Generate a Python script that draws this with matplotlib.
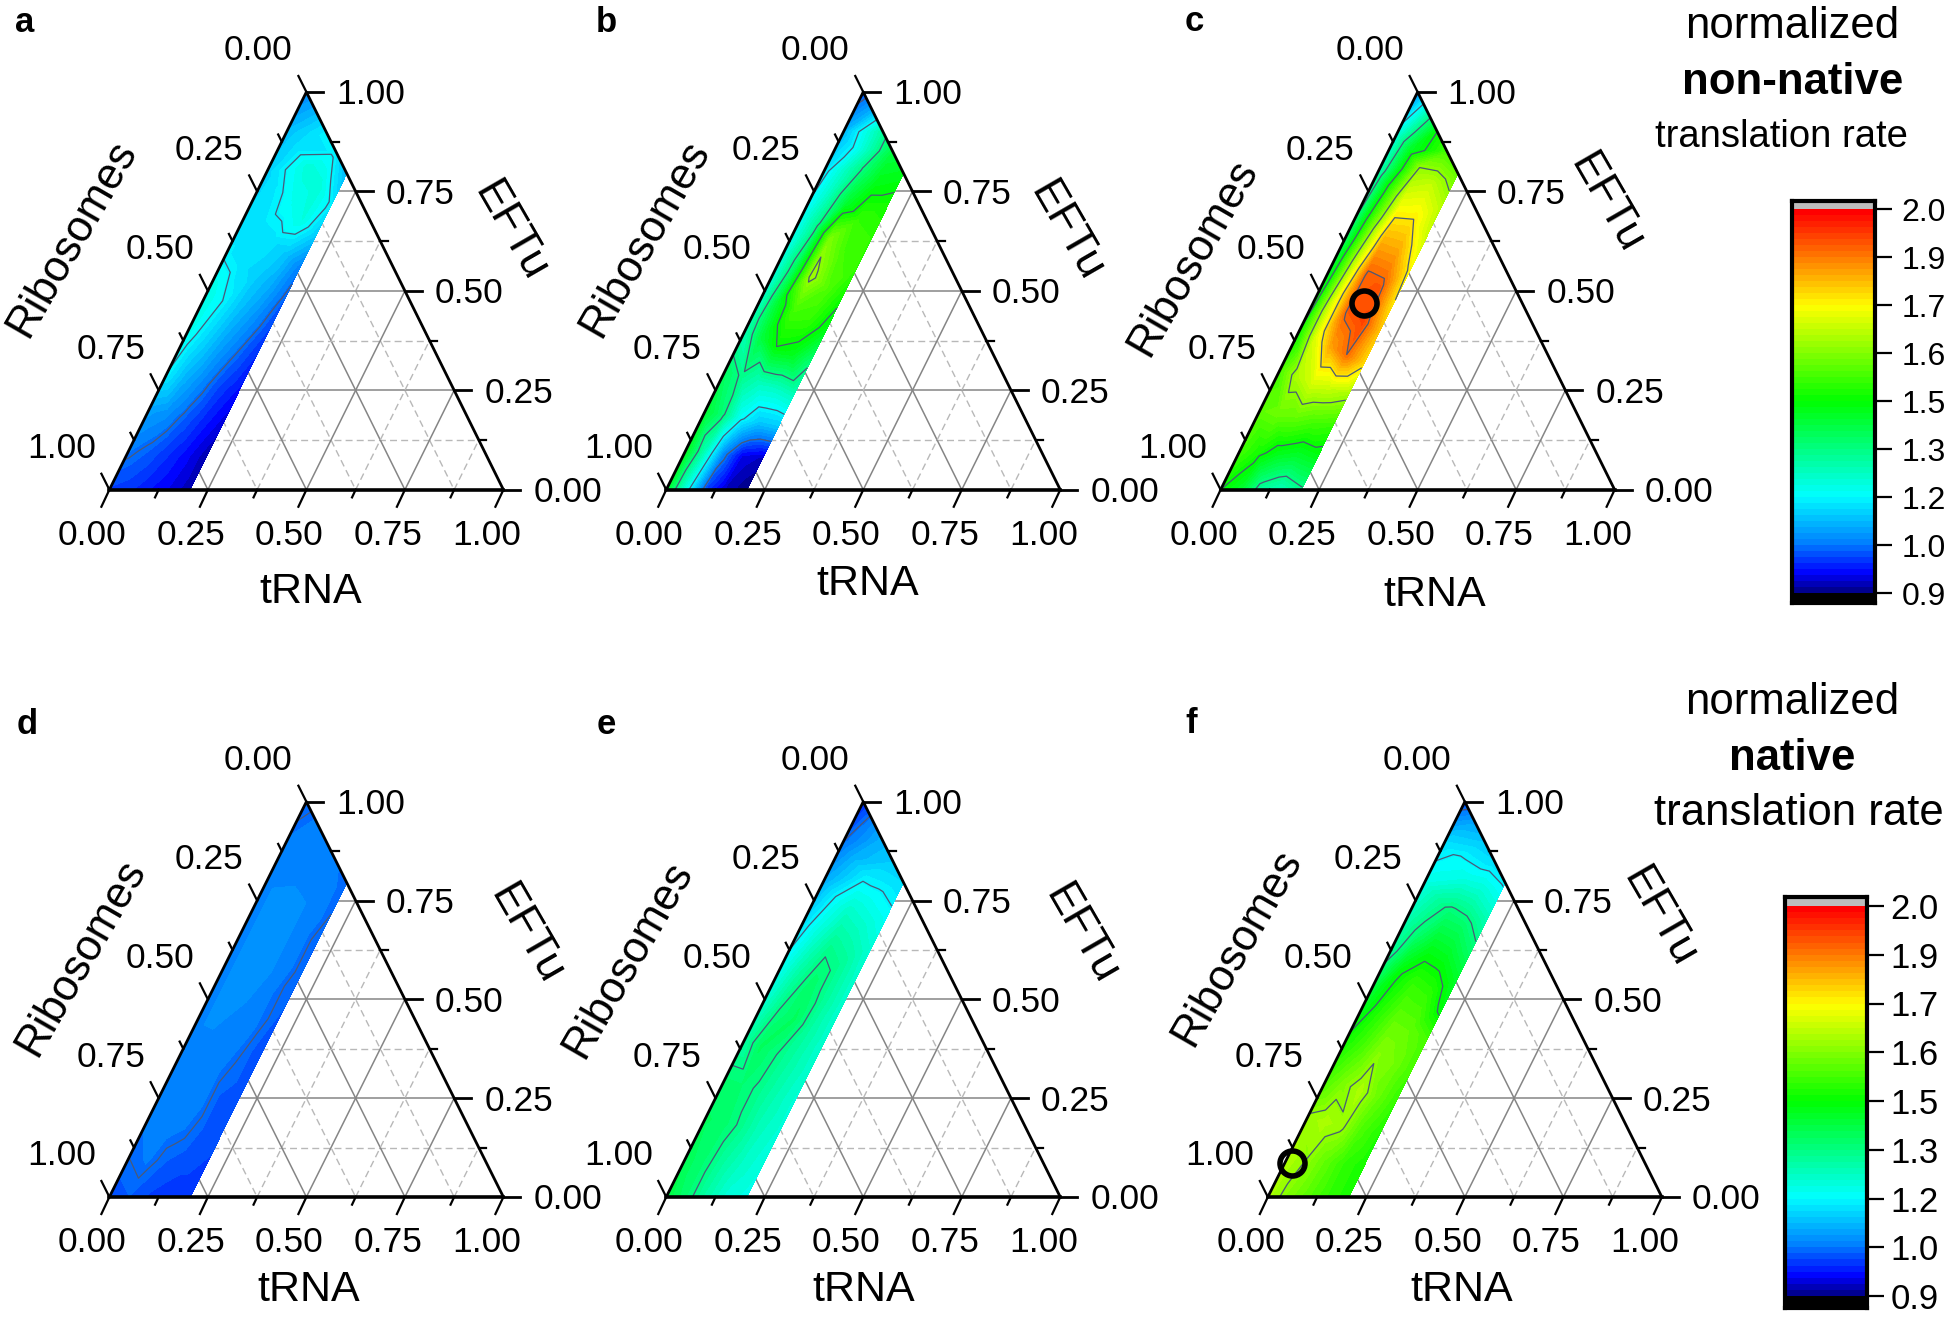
import numpy as np
import matplotlib
matplotlib.use("Agg")
import matplotlib.pyplot as plt
import matplotlib.tri as mtri
from matplotlib.colors import LinearSegmentedColormap, Normalize

plt.rcParams['font.family'] = ['Liberation Sans', 'DejaVu Sans']

# grid of the measured area: tRNA share, and EFTu share of what is left
trna = [0, 0.05, 0.10, 0.15, 0.205]
eftu_frac = [0, 0.1, 0.2, 0.3, 0.4, 0.5, 0.6, 0.7, 0.8, 0.9, 1.0]

rate_a = [[1.00, 0.99, 0.97, 0.95, 0.92], [1.04, 1.02, 0.99, 0.96, 0.92], [1.08, 1.06, 1.02, 0.98, 0.94],
          [1.17, 1.10, 1.05, 1.00, 0.96], [1.20, 1.14, 1.08, 1.03, 0.98], [1.21, 1.17, 1.11, 1.06, 1.00],
          [1.16, 1.15, 1.13, 1.09, 1.02], [1.14, 1.15, 1.15, 1.12, 1.04], [1.13, 1.16, 1.19, 1.21, 1.12],
          [1.11, 1.15, 1.22, 1.22, 1.16], [1.05, 1.10, 1.16, 1.16, 1.10]]
rate_b = [[1.40, 1.20, 1.00, 0.93, 0.90], [1.42, 1.25, 1.05, 0.95, 0.93], [1.40, 1.32, 1.18, 1.12, 1.12],
          [1.35, 1.30, 1.25, 1.24, 1.25], [1.25, 1.38, 1.45, 1.42, 1.32], [1.22, 1.40, 1.52, 1.50, 1.42],
          [1.20, 1.35, 1.62, 1.54, 1.46], [1.18, 1.30, 1.58, 1.52, 1.50], [1.15, 1.25, 1.40, 1.50, 1.50],
          [1.10, 1.18, 1.32, 1.43, 1.47], [1.00, 1.10, 1.28, 1.38, 1.42]]
rate_c = [[1.45, 1.40, 1.28, 1.25, 1.30], [1.52, 1.47, 1.42, 1.40, 1.42], [1.55, 1.56, 1.55, 1.52, 1.50],
          [1.52, 1.63, 1.68, 1.66, 1.62], [1.45, 1.68, 1.82, 1.88, 1.76], [1.40, 1.68, 1.90, 1.92, 1.78],
          [1.35, 1.62, 1.89, 1.90, 1.74], [1.30, 1.55, 1.80, 1.82, 1.72], [1.25, 1.48, 1.70, 1.74, 1.66],
          [1.20, 1.40, 1.60, 1.66, 1.64], [1.05, 1.25, 1.45, 1.52, 1.55]]
rate_d = [[1.01, 1.02, 1.00, 0.99, 0.99], [1.03, 1.04, 1.02, 1.01, 1.00], [1.04, 1.05, 1.04, 1.02, 1.01],
          [1.05, 1.05, 1.05, 1.02, 1.01], [1.05, 1.05, 1.05, 1.03, 1.01], [1.05, 1.06, 1.05, 1.04, 1.01],
          [1.05, 1.06, 1.06, 1.04, 1.02], [1.05, 1.06, 1.06, 1.05, 1.02], [1.05, 1.06, 1.06, 1.05, 1.02],
          [1.04, 1.05, 1.05, 1.05, 1.03], [1.02, 1.04, 1.04, 1.04, 1.03]]
rate_e = [[1.38, 1.33, 1.27, 1.22, 1.20], [1.36, 1.33, 1.28, 1.24, 1.21], [1.35, 1.34, 1.30, 1.25, 1.22],
          [1.33, 1.33, 1.30, 1.26, 1.22], [1.27, 1.35, 1.31, 1.27, 1.23], [1.22, 1.31, 1.35, 1.28, 1.23],
          [1.18, 1.27, 1.34, 1.29, 1.23], [1.14, 1.22, 1.30, 1.29, 1.23], [1.09, 1.17, 1.24, 1.24, 1.22],
          [1.03, 1.10, 1.16, 1.18, 1.18], [0.98, 1.05, 1.10, 1.12, 1.14]]
rate_f = [[1.63, 1.58, 1.54, 1.50, 1.47], [1.64, 1.60, 1.55, 1.50, 1.47], [1.61, 1.63, 1.61, 1.53, 1.48],
          [1.52, 1.58, 1.63, 1.56, 1.50], [1.46, 1.52, 1.59, 1.57, 1.52], [1.40, 1.48, 1.55, 1.55, 1.52],
          [1.30, 1.44, 1.50, 1.50, 1.43], [1.26, 1.33, 1.42, 1.43, 1.40], [1.20, 1.27, 1.33, 1.35, 1.32],
          [1.14, 1.18, 1.20, 1.24, 1.24], [1.00, 1.08, 1.12, 1.14, 1.16]]

panel_names = ['a', 'b', 'c', 'd', 'e', 'f']
panel_rates = [rate_a, rate_b, rate_c, rate_d, rate_e, rate_f]
tick_labels = ['0.00', '0.25', '0.50', '0.75', '1.00']
tick_values = [0, 0.25, 0.5, 0.75, 1.0]
bar_values = [2.0, 1.8625, 1.725, 1.5875, 1.45, 1.3125, 1.175, 1.0375, 0.9]
bar_labels = ['2.0', '1.9', '1.7', '1.6', '1.5', '1.3', '1.2', '1.0', '0.9']
contour_levels = [1.03, 1.17, 1.31, 1.45, 1.6, 1.74, 1.88]
# best points: panel, tRNA, EFTu
best_points = {'c': (0.13, 0.47), 'f': (0.018, 0.085)}

W, H = 1949, 1324
S = 1949 / 1568.0   # layout below was measured on the 1568 wide view

# left corner x, base y, top y, name spot, Ribosomes spot, EFTu spot, tRNA spot
layout = {
    'a': (88, 394, 74, (20, 18), (58, 192), (410, 186), (250, 476)),
    'b': (536, 394, 74, (488, 18), (519, 192), (858, 186), (698, 470)),
    'c': (982, 394, 74, (961, 17), (960, 207), (1292, 164), (1154, 479)),
    'd': (88, 963, 645, (22, 583), (65, 770), (423, 752), (248, 1038)),
    'e': (536, 963, 645, (488, 583), (505, 772), (870, 752), (695, 1038)),
    'f': (1020, 963, 645, (958, 582), (995, 762), (1335, 738), (1176, 1038)),
}

rainbow = LinearSegmentedColormap.from_list('rainbow_rate', [
    (0.0, '#000090'), (0.045, '#0000ff'), (0.125, '#0080ff'), (0.25, '#00ffff'),
    (0.375, '#00ff80'), (0.5, '#00ff00'), (0.625, '#80ff00'), (0.75, '#ffff00'),
    (0.875, '#ff8000'), (1.0, '#ff0000')], N=64)
norm = Normalize(0.9, 2.0)


def cart(t, e):
    return t + e / 2.0, e


fig = plt.figure(figsize=(W / 100, H / 100), dpi=100)


def put_text(x, y, s, **kw):
    fig.text(x * S / W, 1 - y * S / H, s, ha=kw.pop('ha', 'center'), va=kw.pop('va', 'center'), **kw)


for name, rate in zip(panel_names, panel_rates):
    x0, base, top, name_xy, rib_xy, eftu_xy, trna_xy = layout[name]
    wpx = 317 * S
    hpx = (base - top) * S
    ax = fig.add_axes([x0 * S / W, 1 - base * S / H, wpx / W, hpx / H])
    ax.set_xlim(0, 1)
    ax.set_ylim(0, 1)
    ax.axis('off')

    # grid first, the data area sits on top
    for v in [0.125, 0.25, 0.375, 0.5, 0.625, 0.75, 0.875]:
        major = v in tick_values
        st = dict(color='#858585' if major else '#b8b8b8', lw=1.1 if major else 1.0,
                  ls='-' if major else (0, (5, 3)), zorder=1)
        ax.plot(*zip(cart(0, v), cart(1 - v, v)), **st)
        ax.plot(*zip(cart(v, 0), cart(v, 1 - v)), **st)
        ax.plot(*zip(cart(0, 1 - v), cart(1 - v, 0)), **st)

    tt, ff = np.meshgrid(trna, eftu_frac)
    ee = ff * (1 - tt)
    xx, yy = cart(tt, ee)
    tri = mtri.Triangulation(xx.ravel(), yy.ravel())
    z = np.array(rate).ravel()
    ax.tricontourf(tri, z, levels=np.linspace(0.9, 2.0, 65), cmap=rainbow, norm=norm, extend='both', zorder=2)
    ax.tricontour(tri, z, levels=contour_levels, colors='#4a5a78', linewidths=0.9, zorder=3)

    # triangle edges
    ax.plot([0, 0.5, 1], [0, 1, 0], color='black', lw=2.0, clip_on=False, zorder=5)
    ax.plot([0, 1], [0, 0], color='black', lw=2.6, clip_on=False, zorder=5)

    for v in np.arange(0, 1.01, 0.125):
        major = v in tick_values
        k = 1.0 if major else 0.45
        # Ribosomes side
        px, py = cart(0, 1 - v)
        ax.plot([px, px - k * 8 / wpx], [py, py + k * 16 / hpx], color='black', lw=1.6, clip_on=False, zorder=5)
        # tRNA side
        px, py = cart(v, 0)
        ax.plot([px, px - k * 8 / wpx], [py, py - k * 17 / hpx], color='black', lw=1.6, clip_on=False, zorder=5)
        # EFTu side
        px, py = cart(1 - v, v)
        ax.plot([px, px + k * 17 / wpx], [py, py], color='black', lw=2.0 if major else 1.6, clip_on=False, zorder=5)

    for v, lab in zip(tick_values, tick_labels):
        px, py = cart(0, 1 - v)
        ax.annotate(lab, (px, py), xytext=(-48, 41), textcoords='offset pixels', fontsize=25.5, ha='center', va='center')
        px, py = cart(v, 0)
        ax.annotate(lab, (px, py), xytext=(-17, -46), textcoords='offset pixels', fontsize=25.5, ha='center', va='center')
        px, py = cart(1 - v, v)
        ax.annotate(lab, (px, py), xytext=(30, -3), textcoords='offset pixels', fontsize=25.5, ha='left', va='center')

    if name in best_points:
        t, e = best_points[name]
        px, py = cart(t, e)
        ax.plot(px, py, 'o', ms=18, mfc='none', mec='black', mew=4, zorder=6, clip_on=False)

    put_text(name_xy[0], name_xy[1], name, fontsize=25, fontweight='bold')
    put_text(rib_xy[0], rib_xy[1], 'Ribosomes', fontsize=31.5, rotation=60)
    put_text(eftu_xy[0], eftu_xy[1], 'EFTu', fontsize=32, rotation=-60)
    put_text(trna_xy[0], trna_xy[1], 'tRNA', fontsize=31)

for yy, mode, rate_size in [(0, 'non-native', 27.5), (544.5, 'native', 31.5)]:
    put_text(1442, 21 + yy, 'normalized', fontsize=31.5)
    put_text(1442, 66 + yy, mode, fontsize=31.5, fontweight='bold')
    put_text(1447 if yy else 1433, 110 + yy, 'translation rate', fontsize=rate_size)

# colour bars: full size pixels left, right, top, bottom, tick 2.0, tick 0.9, label size, pad
for left, right, ytop, ybot, y20, y09, lab_size, pad in [(1792, 1875, 201, 603, 209, 593, 23, 7),
                                                         (1785, 1867, 897, 1308, 906, 1296, 25, 5)]:
    cax = fig.add_axes([left / W, 1 - ybot / H, (right - left) / W, (ybot - ytop) / H])
    per_px = (2.0 - 0.9) / (y09 - y20)
    hi = 2.0 + (y20 - ytop) * per_px
    lo = 0.9 - (ybot - y09) * per_px
    grad = np.linspace(0.9, 2.0, 64).reshape(-1, 1)
    cax.imshow(grad, aspect='auto', origin='lower', extent=[0, 1, 0.9, 2.0], cmap=rainbow, norm=norm,
               interpolation='nearest')
    cax.axhspan(2.0, hi, color='#bdbdbd', lw=0)
    cax.axhspan(lo, 0.9, color='black', lw=0)
    cax.set_xlim(0, 1)
    cax.set_ylim(lo, hi)
    cax.set_xticks([])
    cax.yaxis.tick_right()
    cax.set_yticks(bar_values)
    cax.set_yticklabels(bar_labels, fontsize=lab_size)
    cax.tick_params(axis='y', length=12, width=1.6, pad=pad)
    for sp in cax.spines.values():
        sp.set_linewidth(3.0)

fig.savefig('out.png', dpi=100)
